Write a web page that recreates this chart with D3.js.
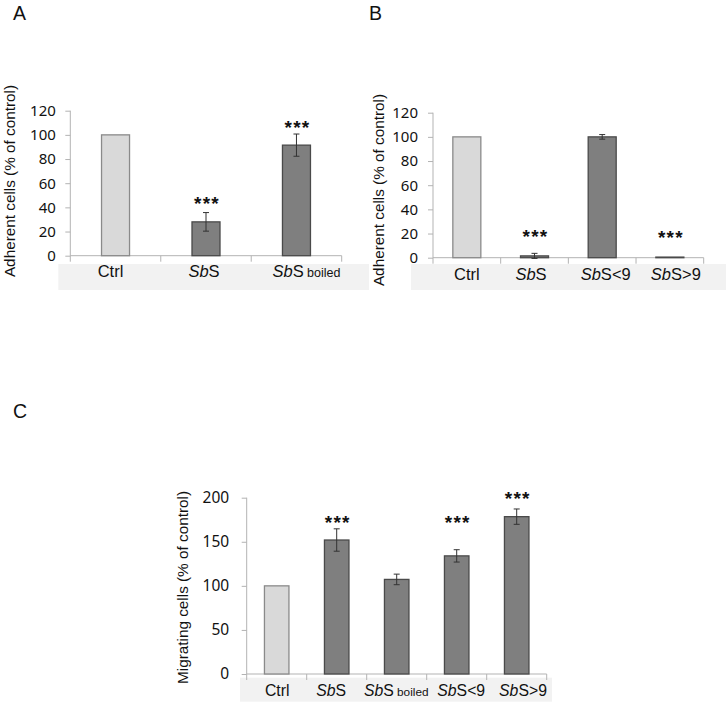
<!DOCTYPE html>
<html><head><meta charset="utf-8">
<script src="https://cdn.jsdelivr.net/npm/d3@7"></script>
<style>
html,body{margin:0;padding:0;background:#fff;}
svg{display:block;}
</style></head>
<body>
<script>
// ---------- data ----------
const catsA = ["Ctrl", "SbS", "SbS boiled"];
const valsA = [100, 28, 91.5];
const errsA = [0, 7.7, 9.2];
const starsA = [null, 47, 109.6];      // star centre height (data units)
const ticksA = [0, 20, 40, 60, 80, 100, 120];

const catsB = ["Ctrl", "SbS", "SbS<9", "SbS>9"];
const valsB = [100, 1.5, 100, 0.5];
const errsB = [0, 2.1, 1.9, 0];
const starsB = [null, 21, null, 20.2];
const ticksB = [0, 20, 40, 60, 80, 100, 120];

const catsC = ["Ctrl", "SbS", "SbS boiled", "SbS<9", "SbS>9"];
const valsC = [100, 152, 107.3, 134, 178.5];
const errsC = [0, 12.7, 6, 7, 8.7];
const starsC = [null, 176.6, null, 177, 203.8];
const ticksC = [0, 50, 100, 150, 200];

const yTitleAB = "Adherent cells (% of control)";
const yTitleC = "Migrating cells (% of control)";

// ---------- layout ----------
const W = 726, H = 708;
const svg = d3.select("body").append("svg").attr("width", W).attr("height", H);

const AXIS = "#b3b3b3";
const TEXT = "#111";

function panel(o) {
  const g = svg.append("g");
  // grey label band
  g.append("rect").attr("x", o.band[0]).attr("y", o.band[1])
    .attr("width", o.band[2] - o.band[0]).attr("height", o.band[3] - o.band[1])
    .attr("fill", "#f2f2f2");

  const x = d3.scaleBand().domain(o.cats).range([o.x0, o.x1]).paddingInner(0).paddingOuter(0);
  const y = d3.scaleLinear().domain([0, o.ymax]).range([o.y0, o.yTop]);

  // y axis
  const ya = d3.axisLeft(y).tickValues(o.ticks).tickSize(5).tickPadding(o.tickPad).tickFormat(d3.format("d"));
  const yg = g.append("g").attr("transform", `translate(${o.x0},0)`).call(ya);
  yg.select(".domain").attr("stroke", AXIS).attr("d", `M0,${y(o.ymax)}V${o.y0 + 6}`);
  yg.selectAll(".tick line").attr("stroke", AXIS);
  yg.selectAll(".tick text").attr("fill", TEXT)
    .style("font-family", "'Noto Sans', sans-serif").style("font-size", o.tickFont + "px");

  // x axis line + boundary ticks
  g.append("line").attr("x1", o.x0).attr("x2", o.x1).attr("y1", o.y0).attr("y2", o.y0).attr("stroke", AXIS);
  const bounds = o.cats.map(c => x(c)).concat([o.x1]).slice(1);
  g.selectAll(".bt").data(bounds).join("line")
    .attr("x1", d => d).attr("x2", d => d).attr("y1", o.y0).attr("y2", o.y0 + 6).attr("stroke", AXIS);

  // bars
  const data = o.cats.map((c, i) => ({ c, i, v: o.vals[i], e: o.errs[i], s: o.stars[i] }));
  const cx = d => x(d.c) + x.bandwidth() / 2;
  g.selectAll(".bar").data(data).join("rect")
    .attr("x", d => cx(d) - o.bw / 2).attr("width", o.bw)
    .attr("y", d => y(d.v)).attr("height", d => Math.max(0.5, o.y0 - y(d.v)))
    .attr("fill", d => d.i === 0 ? "#d9d9d9" : "#7f7f7f")
    .attr("stroke", d => d.i === 0 ? "#8a8a8a" : "#4a4a4a").attr("stroke-width", 1.3);

  // error bars
  const eb = data.filter(d => d.e > 0);
  g.selectAll(".ev").data(eb).join("line")
    .attr("x1", cx).attr("x2", cx).attr("y1", d => y(d.v + d.e)).attr("y2", d => y(d.v - d.e))
    .attr("stroke", "#333").attr("stroke-width", 1);
  ["+", "-"].forEach(sg => {
    g.selectAll(".ec" + (sg === "+" ? "t" : "b")).data(eb).join("line")
      .attr("x1", d => cx(d) - 3).attr("x2", d => cx(d) + 3)
      .attr("y1", d => y(sg === "+" ? d.v + d.e : d.v - d.e))
      .attr("y2", d => y(sg === "+" ? d.v + d.e : d.v - d.e))
      .attr("stroke", "#333").attr("stroke-width", 1);
  });

  // significance stars
  g.selectAll(".star").data(data.filter(d => d.s != null)).join("text")
    .attr("x", d => cx(d) + 1).attr("y", d => y(d.s) + 11)
    .attr("text-anchor", "middle")
    .style("font-family", "'Liberation Sans', Arial, sans-serif").style("font-size", "19px")
    .style("font-weight", "bold").style("letter-spacing", "1.2px").attr("fill", TEXT)
    .text("***");

  // category labels
  const lab = g.selectAll(".lab").data(data).join("text")
    .attr("x", d => cx(d) + o.labOff[d.i]).attr("y", o.labY)
    .attr("text-anchor", "middle").attr("fill", TEXT)
    .style("font-family", "'Liberation Sans', Arial, sans-serif").style("font-size", o.labFont + "px");
  lab.each(function (d) {
    const t = d3.select(this);
    if (d.c === "Ctrl") { t.text("Ctrl"); return; }
    t.append("tspan").style("font-style", "italic").text("Sb");
    t.append("tspan").text("S");
    const rest = d.c.slice(3);
    if (rest.trim() === "boiled") {
      t.append("tspan").style("font-size", (o.labFont - 4) + "px").text(" boiled");
    } else if (rest) {
      t.append("tspan").text(rest);
    }
  });

  // y title
  g.append("text")
    .attr("transform", `translate(${o.titleX},${o.titleY}) rotate(-90)`)
    .attr("text-anchor", "middle").attr("fill", TEXT)
    .style("font-family", "'Liberation Sans', Arial, sans-serif").style("font-size", "15.3px")
    .text(o.title);

  // panel letter
  g.append("text").attr("x", o.letterX).attr("y", o.letterY).attr("fill", TEXT)
    .style("font-family", "'Liberation Sans', Arial, sans-serif").style("font-size", "19.5px")
    .text(o.letter);
}

panel({
  cats: catsA, vals: valsA, errs: errsA, stars: starsA, ticks: ticksA, ymax: 120,
  x0: 70.3, x1: 341.7, y0: 255.7, yTop: 110.7, bw: 28,
  band: [58.3, 264, 369, 290], labY: 276.5, labFont: 16.5, labOff: [-5, -2, 10],
  tickFont: 15, tickPad: 9.5,
  title: yTitleAB, titleX: 14.5, titleY: 181, letter: "A", letterX: 13, letterY: 20
});
panel({
  cats: catsB, vals: valsB, errs: errsB, stars: starsB, ticks: ticksB, ymax: 120,
  x0: 433, x1: 703.7, y0: 257.7, yTop: 112.7, bw: 28,
  band: [411, 264, 726, 290], labY: 280, labFont: 16.5, labOff: [0, -3.5, 3.5, 6],
  tickFont: 15, tickPad: 10,
  title: yTitleAB, titleX: 384, titleY: 190, letter: "B", letterX: 369, letterY: 20
});
panel({
  cats: catsC, vals: valsC, errs: errsC, stars: starsC, ticks: ticksC, ymax: 200,
  x0: 246.7, x1: 546.7, y0: 674, yTop: 497.7, bw: 24.5,
  band: [240, 677.7, 552, 701.7], labY: 696, labFont: 15.8, labOff: [0.5, -5.5, -0.5, 4.5, 6.3],
  tickFont: 15.5, tickPad: 12.5,
  title: yTitleC, titleX: 188, titleY: 587.5, letter: "C", letterX: 13, letterY: 418
});
</script>
</body></html>
